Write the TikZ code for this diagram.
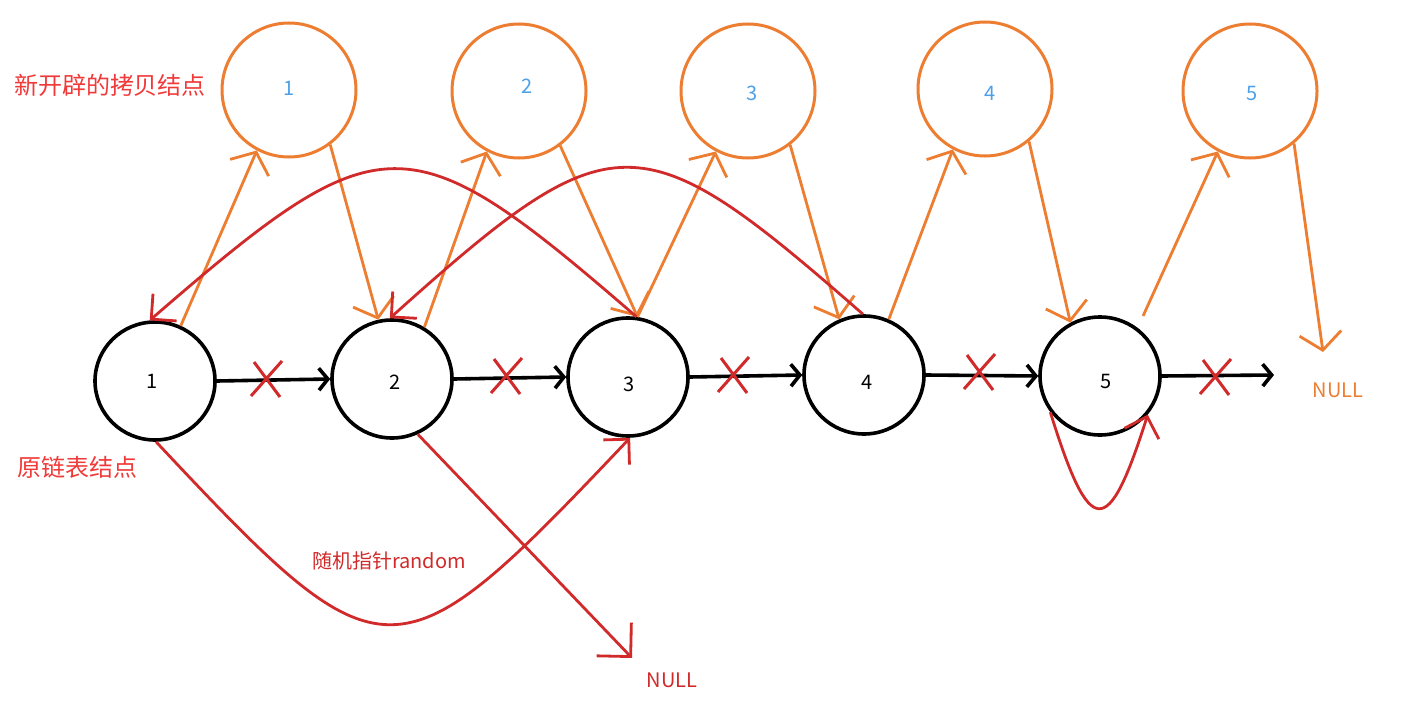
\documentclass[tikz,border=0pt]{standalone}
\usepackage{fontspec}
\setmainfont{Noto Sans CJK SC}
\usetikzlibrary{arrows.meta,shapes.geometric,calc}
\definecolor{lnred}{RGB}{208,42,42}
\definecolor{txred}{RGB}{240,58,58}
\definecolor{orng}{RGB}{237,125,49}
\definecolor{blu}{RGB}{77,160,232}
\begin{document}
\begin{tikzpicture}[x=1pt,y=-1pt,
  orig/.style={ellipse,draw=black,line width=3.6pt,minimum width=120pt,minimum height=118pt,inner sep=0pt},
  copyn/.style={circle,draw=orng,line width=3pt,minimum size=134pt,inner sep=0pt},
  dig/.style={inner sep=0pt,font=\fontsize{20}{24}\selectfont},
  nxt/.style={draw=black,line width=3.6pt,-{Straight Barb[length=9pt,width=22pt]}},
  cpy/.style={draw=orng,line width=2.8pt,-{Straight Barb[length=17pt,width=42pt]}},
  rnd/.style={draw=lnred,line width=2.8pt,-{Straight Barb[length=18pt,width=36pt]}},
  xm/.style={draw=lnred,line width=3pt},
  lbl/.style={inner sep=0pt,font=\fontsize{20}{24}\selectfont}]
\useasboundingbox (0,0) rectangle (1403,701);
% original nodes
\node[orig] (n1) at (155,381) {};
\node[orig] (n2) at (392,379) {};
\node[orig] (n3) at (628,377) {};
\node[orig] (n4) at (864,375) {};
\node[orig] (n5) at (1100,376) {};
\node[dig] (d1) at (152,381) {1};
\node[dig] (d2) at (395,382) {2};
\node[dig] (d3) at (629,384) {3};
\node[dig] (d4) at (867,382) {4};
\node[dig] (d5) at (1106,381) {5};
% copy nodes
\node[copyn] (c1) at (289,90) {};
\node[copyn] (c2) at (519,91) {};
\node[copyn] (c3) at (748,91) {};
\node[copyn] (c4) at (985,89) {};
\node[copyn] (c5) at (1250,91) {};
\node[dig,text=blu] (e1) at (289,88) {1};
\node[dig,text=blu] (e2) at (527,86) {2};
\node[dig,text=blu] (e3) at (752,93) {3};
\node[dig,text=blu] (e4) at (990,93) {4};
\node[dig,text=blu] (e5) at (1252,93) {5};
% labels
\node[lbl,text=txred,font=\fontsize{24}{28}\selectfont] (t1) at (110,85) {新开辟的拷贝结点};
\node[lbl,text=txred,font=\fontsize{24}{28}\selectfont] (t2) at (77,467) {原链表结点};
\node[lbl,text=lnred] (t3) at (389,561) {随机指针random};
\node[lbl,text=orng] (tnullo) at (1338,390) {NULL};
\node[lbl,text=lnred] (tnullr) at (672,680) {NULL};
\coordinate (endn) at (1274,375);
\coordinate (nullo) at (1323,352);
\coordinate (nullr) at (632,658);
% next pointers
\draw[nxt] (n1.east) -- (n2.west);
\draw[nxt] (n2.east) -- (n3.west);
\draw[nxt] (n3.east) -- (n4.west);
\draw[nxt] (n4.east) -- (n5.west);
\draw[nxt] (n5.east) -- (endn);
% crosses
\foreach \p in {(266,379),(506,376),(733,375),(979,372),(1215,377)}
  \draw[xm] \p ++(-15,17) -- ++(31,-35) \p ++(-12,-17) -- ++(26,35);
% copy links
\draw[cpy] (n1.65) -- (c1.242);
\draw[cpy] (c1.307) -- (n2.103);
\draw[cpy] (n2.58) -- (c2.242);
\draw[cpy] (c2.307) -- (n3.81);
\draw[cpy] (n3.81) -- (c3.242);
\draw[cpy] (c3.308) -- (n4.114);
\draw[cpy] (n4.66) -- (c4.242);
\draw[cpy] (c4.310) -- (n5.119);
\draw[cpy] ([shift={(8,-10)}]n5.55) -- (c5.242);
\draw[cpy] (c5.310) -- (nullo);
% random pointers
\draw[rnd] (n3.82) .. controls (408,119) and (382,119) .. (n1.95);
\draw[rnd] (n4.91) .. controls (639,118) and (613,118) .. (n2.92);
\draw[rnd] (n1.271) .. controls (385,686) and (395,686) .. (n3.272);
\draw[rnd,-{Straight Barb[length=24pt,width=48pt]}] (n2.295) -- (nullr);
\draw[rnd] (n5.216) .. controls (1090,540) and (1108,540) .. (n5.321);
\end{tikzpicture}
\end{document}
